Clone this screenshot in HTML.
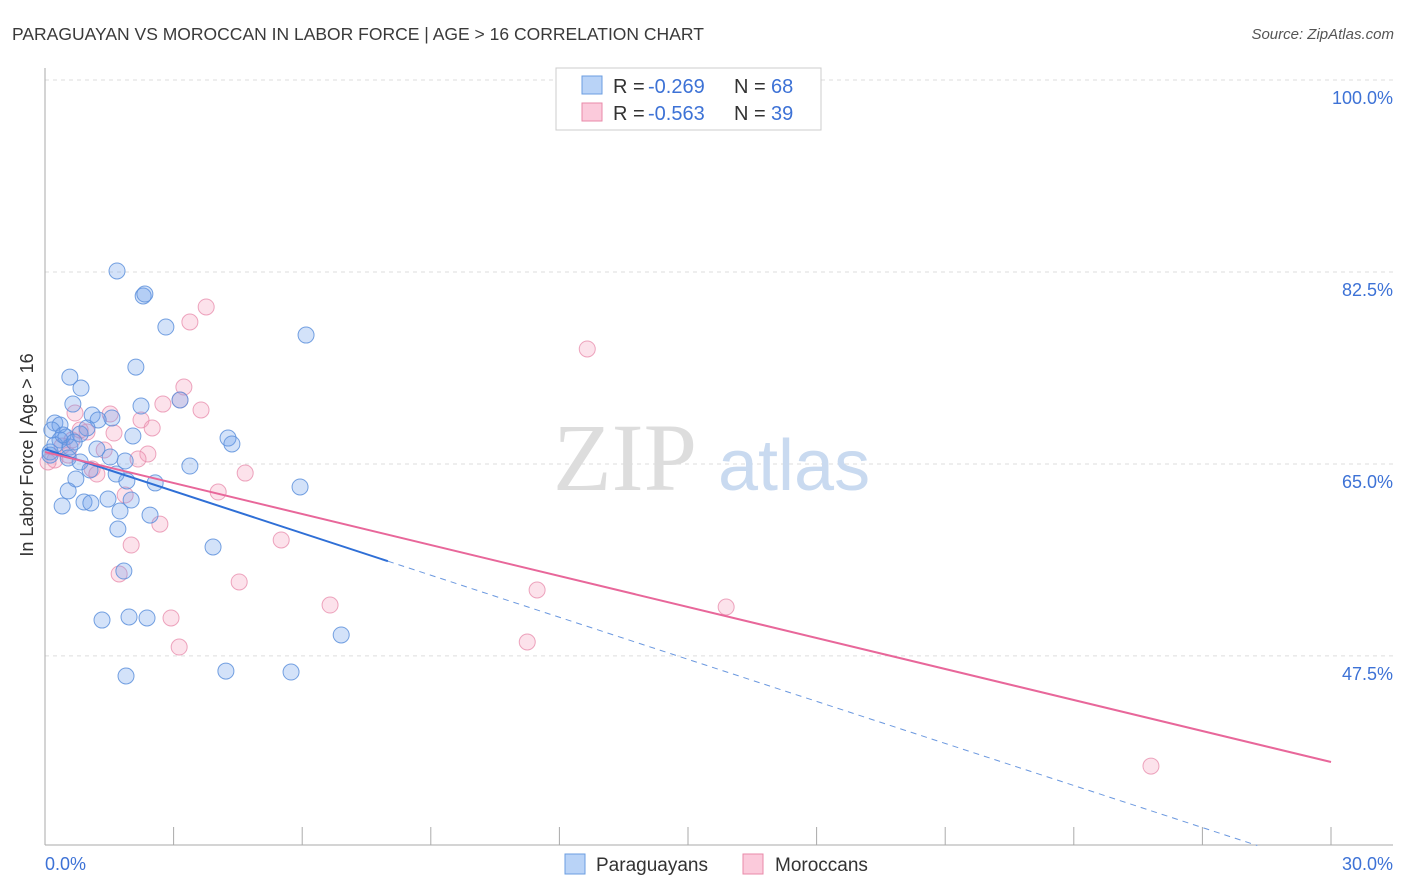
<!DOCTYPE html>
<html><head><meta charset="utf-8"><style>
body{margin:0;background:#fff;font-family:"Liberation Sans",sans-serif}
svg{display:block}
</style></head><body>
<svg id="chart" width="1406" height="892">
<text x="12" y="40" font-size="17.5" fill="#3a3a3a">PARAGUAYAN VS MOROCCAN IN LABOR FORCE | AGE &gt; 16 CORRELATION CHART</text>
<text x="1394" y="39" font-size="15" fill="#555" font-style="italic" text-anchor="end">Source: ZipAtlas.com</text>
<g id="grid"></g>
<g><text x="553" y="490" font-size="96" font-family="Liberation Serif,serif" fill="#ddd">ZIP</text><text x="718" y="490" font-size="72" fill="#c9daf0">atlas</text></g>
<text transform="translate(33,455) rotate(-90)" font-size="18" fill="#333" text-anchor="middle">In Labor Force | Age &gt; 16</text>
<g id="axes"></g>
<g id="marks"></g>
<g>
<rect x="556" y="68" width="265" height="62" fill="#fff" stroke="#ccc"/>
<rect x="582" y="76" width="20" height="18" fill="#b9d3f7" stroke="#6b9ee0"/>
<rect x="582" y="103" width="20" height="18" fill="#fbcadb" stroke="#e88aa8"/>
<text x="613" y="93" font-size="20" fill="#333">R =</text><text x="648" y="93" font-size="20" fill="#3d72d6">-0.269</text>
<text x="734" y="93" font-size="20" fill="#333">N =</text><text x="771" y="93" font-size="20" fill="#3d72d6">68</text>
<text x="613" y="120" font-size="20" fill="#333">R =</text><text x="648" y="120" font-size="20" fill="#3d72d6">-0.563</text>
<text x="734" y="120" font-size="20" fill="#333">N =</text><text x="771" y="120" font-size="20" fill="#3d72d6">39</text>
</g>
<g>
<rect x="565" y="854" width="20" height="20" fill="#b9d3f7" stroke="#6b9ee0"/>
<text x="596" y="871" font-size="19" fill="#333">Paraguayans</text>
<rect x="743" y="854" width="20" height="20" fill="#fbcadb" stroke="#e88aa8"/>
<text x="775" y="871" font-size="19" fill="#333">Moroccans</text>
</g>
</svg>
<script>
const yTicks=[100,82.5,65,47.5];
const yTickLabels=["100.0%","82.5%","65.0%","47.5%"];
const xTickLabels=["0.0%","30.0%"];
const blueX=[1.68,2.29,2.33,2.82,6.09,2.12,0.58,0.84,0.65,2.24,3.15,1.10,1.56,1.24,0.23,0.35,0.98,0.16,0.82,0.49,2.05,4.27,4.36,0.35,0.58,1.21,0.12,0.54,1.52,1.87,0.82,3.38,1.05,1.66,0.72,1.91,2.57,0.54,5.95,1.47,0.91,1.07,2.01,0.40,1.75,2.45,1.70,3.92,1.84,1.33,1.96,2.38,6.91,1.89,4.22,5.74,0.12,0.23,0.42,0.68];
const blueY=[82.59,80.31,80.49,77.48,76.75,73.83,72.92,71.92,70.46,70.28,70.83,69.46,69.19,69.01,68.73,68.55,68.28,68.09,67.73,67.46,67.55,67.36,66.82,67.18,66.54,66.36,66.09,65.54,65.63,65.27,65.18,64.81,64.45,64.08,63.63,63.45,63.27,62.54,62.90,61.80,61.53,61.44,61.71,61.17,60.71,60.34,59.07,57.43,55.24,50.77,51.05,50.96,49.41,45.67,46.12,46.03,65.81,66.73,67.64,67.00];
const pinkX=[3.76,3.38,12.65,3.24,3.15,2.75,3.64,1.52,2.24,0.70,2.50,1.61,0.98,0.63,0.40,1.38,2.40,2.17,0.23,0.07,1.10,1.21,4.67,4.04,1.87,2.68,5.51,2.01,1.73,4.53,6.65,11.48,15.89,2.94,3.13,11.25,25.80,0.54,0.82];
const pinkY=[79.31,77.94,75.48,72.01,70.83,70.46,69.92,69.55,69.01,69.64,68.28,67.82,67.91,67.18,66.64,66.27,65.91,65.45,65.36,65.18,64.54,64.08,64.17,62.44,62.17,59.52,58.07,57.61,54.97,54.24,52.14,53.51,51.96,50.96,48.31,48.77,37.46,65.81,68.09];
const blueTrend=[66.36,28.02];
const pinkTrend=[66.09,37.83];
const NS="http://www.w3.org/2000/svg";
const xs=v=>45+v/30*1286;
const ys=v=>80+(100-v)*10.97;
function mk(tag,attrs,parent){const e=document.createElementNS(NS,tag);for(const k in attrs)e.setAttribute(k,attrs[k]);parent.appendChild(e);return e;}
const grid=document.getElementById('grid'),axes=document.getElementById('axes'),marks=document.getElementById('marks');
yTicks.forEach((t,i)=>{
 const l=mk('line',{x1:45,x2:1393,y1:ys(t),y2:ys(t),stroke:'#ddd','stroke-dasharray':'4,4'},grid);
 
 
 const tx=mk('text',{x:1393,y:ys(t)+24,'font-size':18,fill:'#3d72d6','text-anchor':'end'},axes);
 tx.textContent=yTickLabels[i];
 
 
});
mk('line',{x1:45,x2:45,y1:68,y2:845,stroke:'#aaa'},axes);
mk('line',{x1:45,x2:1393,y1:845,y2:845,stroke:'#aaa'},axes);
for(let i=1;i<=10;i++){const t=mk('line',{x1:xs(i*3),x2:xs(i*3),y1:827,y2:845,stroke:'#aaa'},axes);
 
 }
[[45,'start',0],[1393,'end',1]].forEach(([x,a,i])=>{const t=mk('text',{x:x,y:870,'font-size':18,fill:'#3d72d6','text-anchor':a},axes);t.textContent=xTickLabels[i];
 
 });
function dots(X,Y,fill,stroke,name){X.forEach((x,i)=>{const c=mk('circle',{cx:xs(x),cy:ys(Y[i]),r:8,fill:fill,stroke:stroke,'stroke-width':1},marks);
 
 });}
dots(pinkX,pinkY,'rgba(246,160,190,0.3)','rgba(233,143,174,0.8)','moroccan-point');
dots(blueX,blueY,'rgba(110,160,235,0.3)','rgba(93,144,220,0.85)','paraguayan-point');
const bAt=x=>blueTrend[0]+(blueTrend[1]-blueTrend[0])*x/30;
const l1=mk('line',{x1:xs(0),y1:ys(bAt(0)),x2:xs(8),y2:ys(bAt(8)),stroke:'#2f6fd6','stroke-width':2},marks);


const xe=28.28;
const l2=mk('line',{x1:xs(8),y1:ys(bAt(8)),x2:xs(xe),y2:ys(bAt(xe)),stroke:'#6b98df','stroke-width':1,'stroke-dasharray':'6,5'},marks);


const l3=mk('line',{x1:xs(0),y1:ys(pinkTrend[0]),x2:xs(30),y2:ys(pinkTrend[1]),stroke:'#e8679a','stroke-width':2},marks);


</script>
</body></html>
